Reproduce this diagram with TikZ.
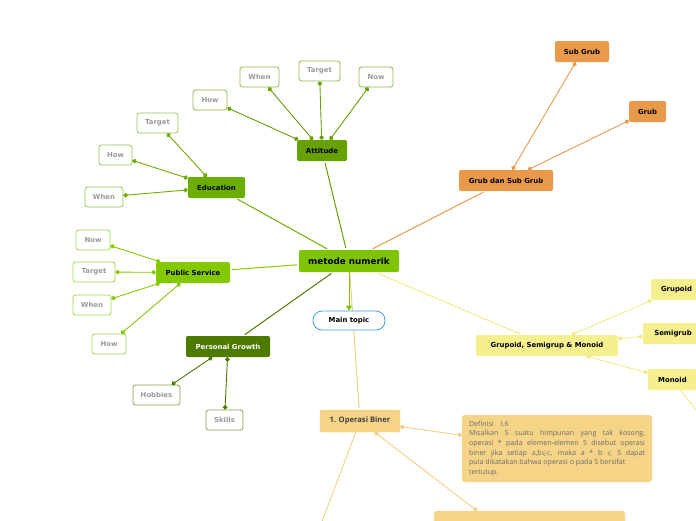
\documentclass[tikz,border=0pt]{standalone}
\usepackage{fontspec}
\setmainfont{DejaVu Sans}
\newfontfamily\notefont{Open Sans}
\usetikzlibrary{arrows.meta}

\definecolor{rootgreen}{HTML}{7EC400}
\definecolor{attgreen}{HTML}{66A100}
\definecolor{edugreen}{HTML}{6BAE00}
\definecolor{psgreen}{HTML}{84C900}
\definecolor{pggreen}{HTML}{4E7A00}
\definecolor{grubor}{HTML}{E8994A}
\definecolor{monoyel}{HTML}{F5EF8E}
\definecolor{monoline}{HTML}{F2EA88}
\definecolor{binerfill}{HTML}{F5D488}
\definecolor{binerline}{HTML}{F5CF80}
\definecolor{leafgray}{HTML}{9A9A9A}
\definecolor{notegray}{HTML}{6A6A6A}
\definecolor{topicblue}{HTML}{3EA0E0}

\begin{document}
\begin{tikzpicture}[%
      x=1pt, y=-1pt,
      topic/.style={rounded corners=2pt, inner sep=0pt, minimum height=21pt,
        font=\bfseries\fontsize{6.9}{7.5}\selectfont, text=black},
      leaf/.style={rounded corners=2.5pt, draw, line width=0.8pt, fill=white,
        inner sep=0pt, minimum height=20pt,
        font=\bfseries\fontsize{6.9}{7.5}\selectfont, text=leafgray},
      twig/.style={line width=0.9pt,
        {Circle[length=4.5pt,width=4.5pt]}-{Circle[length=4.5pt,width=4.5pt]}},
      limb/.style={line width=1pt, shorten <=2pt, shorten >=2pt},
      note/.style={rounded corners=3pt, fill=binerfill, draw=binerfill!80!white,
        inner xsep=7pt, text width=176pt, align=justify, minimum height=67pt,
        font=\notefont\fontsize{7.1}{9.6}\selectfont, text=notegray},
      ]
      \useasboundingbox (0,0) rectangle (696,520);
      \clip (0,0) rectangle (696,520);

      % root and the line behind main topic
      \node[topic, fill=rootgreen, minimum width=100pt, minimum height=22pt,
        font=\bfseries\fontsize{8.8}{9.5}\selectfont] (root) at (349,261) {metode numerik};
      \node[topic, fill=binerfill, draw=binerline, minimum width=80pt, minimum height=22pt,
        font=\notefont\bfseries\fontsize{7.6}{8}\selectfont, text=black!75] (ob) at (360,421) {1. Operasi Biner};
      \draw[limb, binerline] (root) -- (ob);
      \node[rounded corners=9pt, draw=topicblue, line width=0.8pt, fill=white,
        minimum width=72pt, minimum height=19pt, inner sep=0pt,
        font=\bfseries\fontsize{6.9}{7.5}\selectfont] (main) at (349,320.5) {Main topic};
      \draw[line width=1pt, rootgreen, -{Triangle[length=5pt,width=6pt]}] (root) -- (main);

      % Attitude
      \node[topic, fill=attgreen, minimum width=50pt] (att) at (322,150.5) {Attitude};
      \node[leaf, draw=attgreen!75!white, minimum width=34pt] (atthow) at (210,100) {How};
      \node[leaf, draw=attgreen!75!white, minimum width=39pt] (attwhen) at (259.5,77) {When};
      \node[leaf, draw=attgreen!75!white, minimum width=41pt] (atttarget) at (319.5,71) {Target};
      \node[leaf, draw=attgreen!75!white, minimum width=34pt] (attnow) at (376,77) {Now};
      \draw[limb, attgreen] (root) -- (att);
      \foreach \n in {atthow,attwhen,atttarget,attnow}
        \draw[twig, attgreen] (att) -- (\n);

      % Education
      \node[topic, fill=edugreen, minimum width=57pt] (edu) at (216.5,187.5) {Education};
      \node[leaf, draw=edugreen!70!white, minimum width=41pt] (edutarget) at (157.5,123) {Target};
      \node[leaf, draw=edugreen!70!white, minimum width=33pt] (eduhow) at (115.5,155) {How};
      \node[leaf, draw=edugreen!70!white, minimum width=38pt] (eduwhen) at (104,197) {When};
      \draw[limb, edugreen] (root) -- (edu);
      \foreach \n in {edutarget,eduhow,eduwhen}
        \draw[twig, edugreen] (edu) -- (\n);

      % Public Service
      \node[topic, fill=psgreen, minimum width=74pt] (ps) at (193,272.5) {Public Service};
      \node[leaf, draw=psgreen!75!white, minimum width=34pt] (psnow) at (93,240) {Now};
      \node[leaf, draw=psgreen!75!white, minimum width=42pt] (pstarget) at (94,272) {Target};
      \node[leaf, draw=psgreen!75!white, minimum width=38pt] (pswhen) at (92,305) {When};
      \node[leaf, draw=psgreen!75!white, minimum width=34pt] (pshow) at (109,344) {How};
      \draw[limb, psgreen] (root) -- (ps);
      \foreach \n in {psnow,pstarget,pswhen,pshow}
        \draw[twig, psgreen] (ps) -- (\n);

      % Personal Growth
      \node[topic, fill=pggreen, minimum width=84pt, text=white] (pg) at (228,346.5) {Personal Growth};
      \node[leaf, draw=pggreen!70!white, minimum width=47pt] (pghobbies) at (156.5,395) {Hobbies};
      \node[leaf, draw=pggreen!70!white, minimum width=37pt] (pgskills) at (224.5,420) {Skills};
      \draw[limb, pggreen] (root) -- (pg);
      \foreach \n in {pghobbies,pgskills}
        \draw[twig, pggreen] (pg) -- (\n);

      % Grub dan Sub Grub
      \node[topic, fill=grubor, minimum width=94pt] (gsg) at (506,180.5) {Grub dan Sub Grub};
      \node[topic, fill=grubor, minimum width=54pt] (gsgsub) at (582,51.5) {Sub Grub};
      \node[topic, fill=grubor, minimum width=37pt] (gsggrub) at (647.5,111.5) {Grub};
      \draw[limb, grubor] (root) -- (gsg);
      \foreach \n in {gsgsub,gsggrub}
        \draw[twig, grubor] (gsg) -- (\n);

      % Grupoid, Semigrup & Monoid
      \node[topic, fill=monoyel, minimum width=142pt] (gsm) at (547,345.5) {Grupoid, Semigrup \& Monoid};
      \node[topic, fill=monoyel, minimum width=51pt] (gsmgrupoid) at (676.5,289.5) {Grupoid};
      \node[topic, fill=monoyel, minimum width=60pt] (gsmsemigrub) at (673,333.5) {Semigrub};
      \node[topic, fill=monoyel, minimum width=49pt] (gsmmonoid) at (672.5,379.5) {Monoid};
      \coordinate (monoidnext) at (700,415);
      \draw[limb, monoline] (root) -- (gsm);
      \foreach \n in {gsmgrupoid,gsmsemigrub,gsmmonoid}
        \draw[twig, monoline] (gsm) -- (\n);
      \draw[line width=0.9pt, monoline] (gsmmonoid) -- (monoidnext);

      % 1. Operasi Biner
      \node[note] (def) at (557,448.5) {Definisi\quad I.6\newline
        Misalkan S suatu himpunan yang tak kosong,\linebreak
        operasi * pada elemen-elemen S disebut operasi\linebreak
        biner jika setiap a,b$\in$c, maka a * b $\in$ S dapat\linebreak
        pula dikatakan bahwa operasi o pada S bersifat\newline
        tertutup.};
      \node[rounded corners=3pt, fill=binerfill, draw=binerfill!80!white,
        minimum width=191pt, minimum height=80pt] (obnext) at (529.5,551) {};
      \coordinate (obdown) at (315,540);
      \draw[twig, binerline] (ob) -- (def);
      \draw[twig, binerline] (ob) -- (obnext);
      \draw[line width=0.9pt, binerline] (ob) -- (obdown);
      \end{tikzpicture}
\end{document}
